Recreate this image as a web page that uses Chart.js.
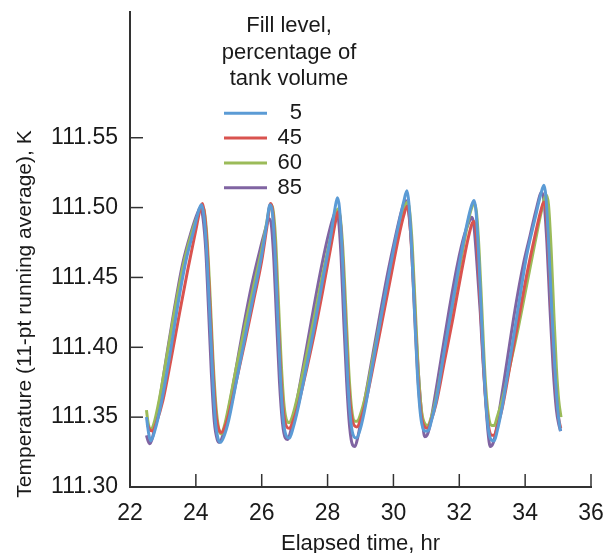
<!DOCTYPE html>
<html>
<head>
<meta charset="utf-8">
<script src="https://cdn.jsdelivr.net/npm/chart.js@4"></script>
<style>
  html, body { margin: 0; padding: 0; background: #ffffff; }
  #wrap { width: 611px; height: 553px; }
</style>
</head>
<body>
<div id="wrap"><canvas id="c" width="611" height="553"></canvas></div>
<script>
// ---- Data ----
const seriesLabels = ['5', '45', '60', '85'];
const xTickValues = [22, 24, 26, 28, 30, 32, 34, 36];
const yTickValues = [111.30, 111.35, 111.40, 111.45, 111.50, 111.55];
const legendTitleLines = ['Fill level,', 'percentage of', 'tank volume'];
const xTitle = 'Elapsed time, hr';
const yTitle = 'Temperature (11-pt running average), K';

// Fill level 5 %
const t5 = [22.50,22.57,22.63,22.75,22.95,23.20,23.45,23.70,23.95,24.10,24.17,24.25,24.33,24.42,24.51,24.59,24.67,24.75,24.85,
  25.00,25.25,25.50,25.75,26.00,26.15,26.25,26.32,26.40,26.48,26.57,26.66,26.76,26.84,26.95,
  27.10,27.35,27.60,27.85,28.10,28.23,28.30,28.36,28.44,28.52,28.61,28.70,28.80,28.88,29.00,
  29.15,29.40,29.65,29.90,30.15,30.32,30.41,30.47,30.55,30.64,30.73,30.83,30.95,31.05,31.15,
  31.30,31.55,31.80,32.05,32.25,32.38,32.45,32.51,32.59,32.68,32.77,32.86,32.96,33.06,33.15,
  33.30,33.55,33.80,34.05,34.30,34.48,34.57,34.63,34.71,34.80,34.90,34.99,35.07];
const T5 = [111.350,111.338,111.333,111.340,111.360,111.393,111.430,111.462,111.485,111.499,111.502,111.493,111.468,111.425,111.380,111.348,111.335,111.332,111.336,
  111.348,111.378,111.408,111.437,111.466,111.488,111.502,111.497,111.470,111.425,111.378,111.347,111.336,111.335,111.342,
  111.356,111.385,111.415,111.448,111.480,111.500,111.507,111.500,111.470,111.425,111.378,111.348,111.336,111.335,111.342,
  111.358,111.392,111.425,111.457,111.487,111.505,111.512,111.503,111.472,111.425,111.380,111.350,111.340,111.340,111.347,
  111.362,111.398,111.432,111.466,111.490,111.502,111.505,111.497,111.465,111.418,111.374,111.346,111.334,111.333,111.340,
  111.357,111.393,111.430,111.466,111.492,111.510,111.516,111.508,111.475,111.430,111.385,111.355,111.340];

// Fill level 45 %
const t45 = [22.52,22.60,22.68,22.80,23.00,23.25,23.50,23.75,24.00,24.13,24.20,24.27,24.35,24.44,24.53,24.61,24.70,24.78,24.88,
  25.00,25.25,25.50,25.75,26.00,26.15,26.27,26.33,26.41,26.49,26.58,26.67,26.76,26.84,26.95,
  27.10,27.35,27.60,27.85,28.10,28.24,28.32,28.38,28.46,28.54,28.63,28.72,28.81,28.89,29.00,
  29.15,29.40,29.65,29.90,30.15,30.32,30.42,30.48,30.56,30.65,30.74,30.84,30.95,31.04,31.15,
  31.30,31.55,31.80,32.05,32.25,32.38,32.45,32.51,32.59,32.68,32.78,32.88,32.98,33.06,33.15,
  33.30,33.55,33.80,34.05,34.30,34.48,34.57,34.64,34.72,34.81,34.91,35.00,35.08];
const T45 = [111.345,111.341,111.340,111.346,111.362,111.392,111.424,111.455,111.484,111.499,111.503,111.494,111.468,111.424,111.380,111.352,111.341,111.339,111.343,
  111.352,111.378,111.405,111.433,111.462,111.485,111.503,111.498,111.470,111.425,111.380,111.352,111.343,111.342,111.347,
  111.358,111.383,111.410,111.440,111.472,111.490,111.497,111.492,111.463,111.420,111.377,111.352,111.344,111.343,111.348,
  111.360,111.388,111.418,111.448,111.478,111.495,111.501,111.495,111.466,111.422,111.380,111.352,111.343,111.342,111.348,
  111.360,111.390,111.420,111.452,111.476,111.488,111.490,111.483,111.455,111.412,111.370,111.345,111.337,111.337,111.343,
  111.356,111.388,111.420,111.452,111.480,111.498,111.504,111.497,111.465,111.420,111.378,111.352,111.342];

// Fill level 60 %
const t60 = [22.50,22.55,22.62,22.72,22.90,23.15,23.40,23.65,23.90,24.10,24.18,24.26,24.34,24.43,24.52,24.61,24.70,24.77,24.87,
  25.00,25.25,25.50,25.75,26.00,26.15,26.27,26.34,26.42,26.50,26.59,26.68,26.77,26.84,26.95,
  27.10,27.35,27.60,27.85,28.10,28.24,28.31,28.38,28.46,28.55,28.64,28.73,28.82,28.90,29.00,
  29.15,29.40,29.65,29.90,30.15,30.33,30.43,30.49,30.57,30.66,30.75,30.85,30.96,31.04,31.15,
  31.30,31.55,31.80,32.05,32.25,32.38,32.46,32.52,32.60,32.69,32.78,32.88,32.98,33.06,33.15,
  33.30,33.55,33.80,34.05,34.30,34.50,34.64,34.71,34.79,34.87,34.95,35.02,35.09];
const T60 = [111.355,111.346,111.341,111.345,111.364,111.398,111.432,111.462,111.484,111.497,111.501,111.497,111.478,111.438,111.392,111.358,111.341,111.338,111.344,
  111.358,111.388,111.416,111.443,111.470,111.489,111.502,111.499,111.478,111.437,111.390,111.358,111.347,111.346,111.352,
  111.366,111.393,111.422,111.452,111.480,111.495,111.499,111.494,111.472,111.430,111.385,111.356,111.347,111.347,111.352,
  111.365,111.395,111.425,111.455,111.483,111.500,111.504,111.498,111.474,111.430,111.385,111.355,111.345,111.344,111.350,
  111.364,111.397,111.430,111.462,111.488,111.500,111.503,111.497,111.470,111.425,111.380,111.352,111.344,111.344,111.350,
  111.362,111.388,111.415,111.445,111.475,111.498,111.509,111.502,111.470,111.425,111.385,111.362,111.350];

// Fill level 85 %
const t85 = [22.50,22.55,22.60,22.68,22.85,23.10,23.35,23.60,23.85,24.05,24.14,24.22,24.30,24.38,24.47,24.56,24.65,24.72,24.82,
  24.95,25.20,25.45,25.70,25.95,26.12,26.22,26.29,26.37,26.45,26.54,26.63,26.72,26.79,26.88,
  27.00,27.25,27.50,27.75,28.00,28.17,28.27,28.33,28.41,28.49,28.58,28.67,28.76,28.83,28.93,
  29.05,29.30,29.55,29.80,30.05,30.25,30.37,30.44,30.50,30.56,30.68,30.80,30.89,30.95,31.02,31.10,
  31.20,31.45,31.70,31.95,32.15,32.30,32.38,32.44,32.53,32.64,32.72,32.79,32.87,32.94,33.02,33.10,
  33.20,33.45,33.70,33.95,34.15,34.35,34.50,34.57,34.66,34.75,34.85,34.95,35.02,35.08];
const T85 = [111.337,111.333,111.331,111.335,111.355,111.392,111.428,111.460,111.482,111.496,111.500,111.492,111.470,111.430,111.382,111.347,111.334,111.332,111.337,
  111.350,111.382,111.415,111.445,111.470,111.485,111.492,111.488,111.462,111.420,111.375,111.346,111.335,111.334,111.340,
  111.353,111.385,111.418,111.450,111.478,111.493,111.498,111.492,111.465,111.420,111.375,111.343,111.330,111.329,111.337,
  111.352,111.385,111.418,111.450,111.478,111.498,111.505,111.500,111.488,111.470,111.412,111.368,111.345,111.336,111.337,111.343,
  111.356,111.392,111.428,111.460,111.480,111.490,111.493,111.488,111.462,111.424,111.390,111.365,111.340,111.329,111.331,111.338,
  111.352,111.390,111.428,111.460,111.480,111.500,111.511,111.505,111.475,111.430,111.385,111.355,111.345,111.340];

// ---- Styles ----
const seriesColors = ['#5B9BD5', '#D9534F', '#9BBB59', '#8064A2'];
const axisColor = '#333333';
const textColor = '#1a1a1a';
const fontFamily = "'Liberation Sans', Arial, Helvetica, sans-serif";

const timeSets = [t5, t45, t60, t85];
const tempSets = [T5, T45, T60, T85];

const datasets = seriesLabels.map((lab, i) => ({
  label: lab,
  data: timeSets[i].map((t, j) => ({ x: t, y: tempSets[i][j] })),
  borderColor: seriesColors[i],
  backgroundColor: seriesColors[i],
  borderWidth: 3,
  pointRadius: 0,
  fill: false,
  cubicInterpolationMode: 'monotone'
}));

const overlay = {
  id: 'overlay',
  beforeDatasetsDraw(chart) {
    const ctx = chart.ctx, area = chart.chartArea;
    const xs = chart.scales.x, ys = chart.scales.y;
    ctx.save();
    ctx.strokeStyle = axisColor;
    ctx.lineWidth = 1.5;
    ys.ticks.forEach(t => {
      const y = ys.getPixelForValue(t.value);
      ctx.beginPath(); ctx.moveTo(area.left, y); ctx.lineTo(area.left + 13, y); ctx.stroke();
    });
    xs.ticks.forEach(t => {
      const x = xs.getPixelForValue(t.value);
      ctx.beginPath(); ctx.moveTo(x, area.bottom); ctx.lineTo(x, area.bottom - 13); ctx.stroke();
    });
    ctx.restore();
  },
  afterDraw(chart) {
    const ctx = chart.ctx;
    ctx.save();
    ctx.fillStyle = textColor;
    // y axis title
    ctx.font = '21px ' + fontFamily;
    ctx.translate(25, 314);
    ctx.rotate(-Math.PI / 2);
    ctx.textAlign = 'center';
    ctx.textBaseline = 'middle';
    ctx.fillText(yTitle, 0, 0);
    ctx.restore();

    // legend
    ctx.save();
    ctx.fillStyle = textColor;
    ctx.font = '22px ' + fontFamily;
    ctx.textAlign = 'center';
    ctx.textBaseline = 'alphabetic';
    legendTitleLines.forEach((line, i) => ctx.fillText(line, 289, 32 + i * 26.7));
    chart.data.datasets.forEach((ds, i) => {
      const y = 113.3 + i * 24.8;
      ctx.strokeStyle = ds.borderColor;
      ctx.lineWidth = 3;
      ctx.beginPath(); ctx.moveTo(224, y); ctx.lineTo(267, y); ctx.stroke();
      ctx.textAlign = 'right';
      ctx.fillText(ds.label, 302, y + 6);
    });
    ctx.restore();
  }
};

new Chart(document.getElementById('c'), {
  type: 'line',
  data: { datasets },
  options: {
    responsive: false,
    animation: false,
    devicePixelRatio: 1,
    layout: { padding: { top: 12, right: 20, left: 0, bottom: 0 } },
    plugins: { legend: { display: false }, tooltip: { enabled: false } },
    scales: {
      x: {
        type: 'linear',
        min: 22, max: 36,
        afterBuildTicks: s => { s.ticks = xTickValues.map(v => ({ value: v })); },
        afterFit: s => { s.height = 66; s.paddingLeft = 0; s.paddingRight = 0; },
        grid: { display: false, drawTicks: false },
        border: { display: true, color: axisColor, width: 2 },
        ticks: { padding: 13, color: textColor, font: { family: fontFamily, size: 23 }, callback: v => String(v) },
        title: { display: true, text: xTitle, color: textColor, font: { family: fontFamily, size: 22 }, padding: { top: 0, bottom: -4 } }
      },
      y: {
        type: 'linear',
        min: 111.30, max: 111.64,
        afterBuildTicks: s => { s.ticks = yTickValues.map(v => ({ value: v })); },
        afterFit: s => { s.width = 130; s.paddingTop = 0; s.paddingBottom = 0; },
        grid: { display: false, drawTicks: false },
        border: { display: true, color: axisColor, width: 2 },
        ticks: { padding: 12, color: textColor, font: { family: fontFamily, size: 23 }, callback: v => Number(v).toFixed(2) },
        title: { display: false }
      }
    }
  },
  plugins: [overlay]
});
</script>
</body>
</html>
